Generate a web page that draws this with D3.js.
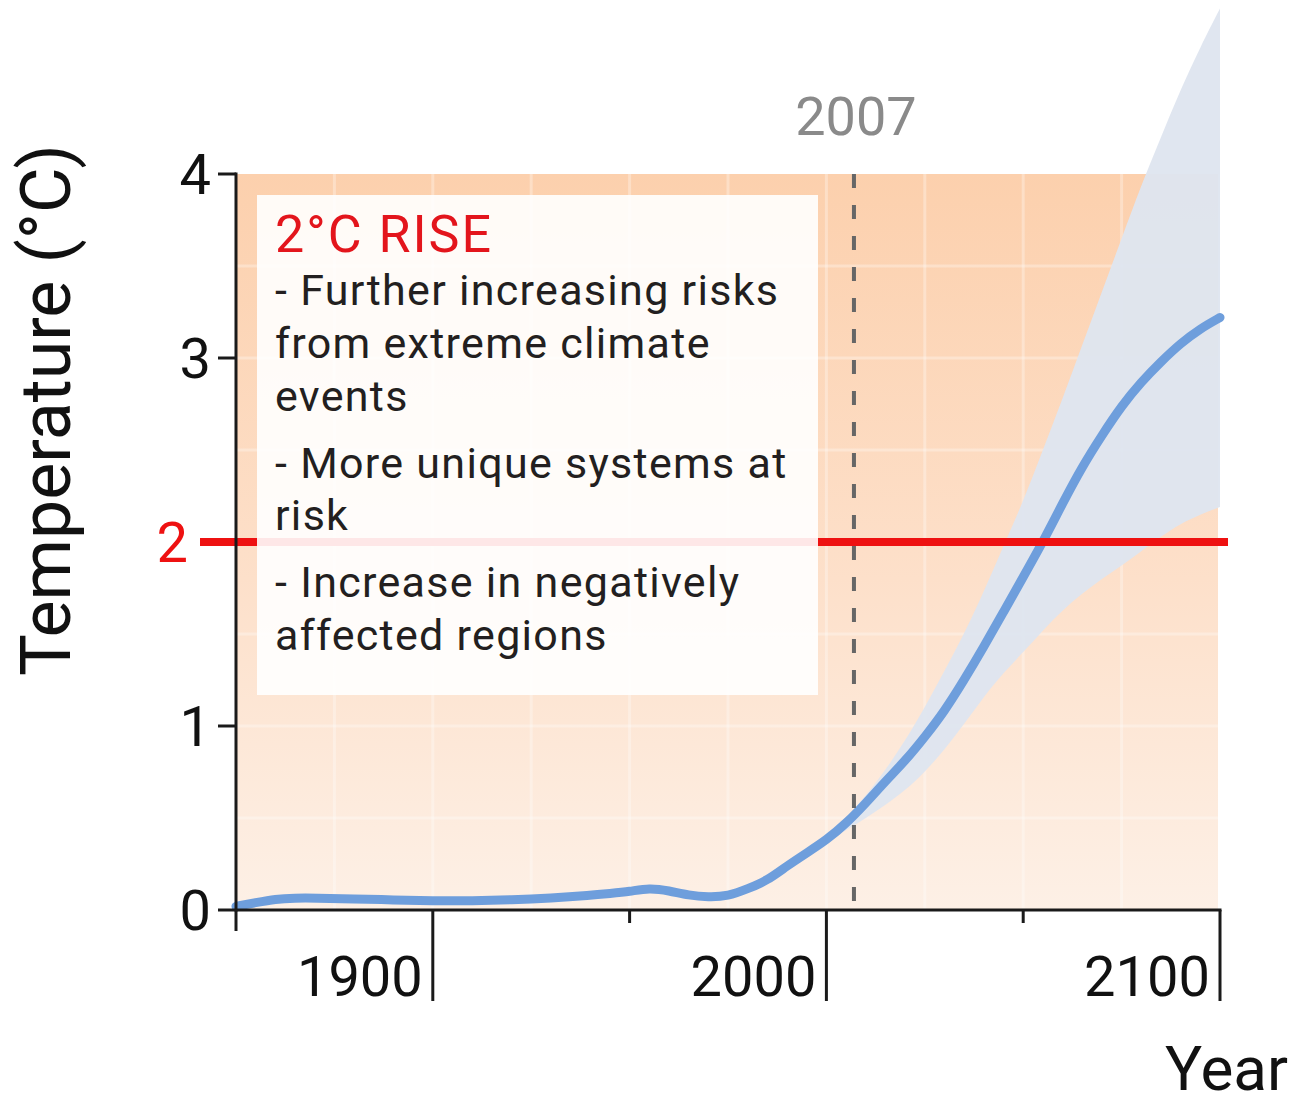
<!DOCTYPE html>
<html><head><meta charset="utf-8">
<script src="https://cdn.jsdelivr.net/npm/d3@7"></script>
<style>
body{margin:0;background:#fff}
svg{display:block}
text{font-family:Roboto,"DejaVu Sans",sans-serif}
</style>
</head><body>
<svg id="chart" width="1296" height="1106"></svg>
<script>
// ---- data ----
const years = [1850,1855,1860,1865,1870,1880,1890,1900,1910,1920,1930,1940,1945,1950,1955,1960,1965,1970,1975,1980,1985,1990,1995,2000,2005,2010,2015,2020,2025,2030,2035,2040,2045,2050,2055,2060,2065,2070,2075,2080,2085,2090,2095,2100];
const temps = [0.02,0.04,0.06,0.065,0.065,0.06,0.055,0.05,0.05,0.055,0.065,0.08,0.09,0.10,0.12,0.105,0.08,0.07,0.075,0.115,0.16,0.24,0.31,0.38,0.47,0.58,0.70,0.81,0.94,1.08,1.25,1.43,1.62,1.81,2.0,2.21,2.41,2.58,2.74,2.87,2.98,3.08,3.16,3.22];
const bandYears = [2000,2005,2010,2015,2020,2025,2030,2035,2040,2045,2050,2055,2060,2065,2070,2075,2080,2085,2090,2095,2100];
const bandUpper = [0.38,0.50,0.62,0.76,0.92,1.10,1.30,1.50,1.73,1.98,2.22,2.50,2.78,3.07,3.36,3.65,3.94,4.20,4.46,4.69,4.90];
const bandLower = [0.38,0.43,0.50,0.57,0.65,0.75,0.87,1.01,1.16,1.29,1.40,1.52,1.63,1.72,1.80,1.87,1.95,2.03,2.10,2.15,2.19];
const yTicks = [0,1,2,3,4];
const xMajorTicks = [1900,2000,2100];
const xMinorTicks = [1850,1950,2050];
const gridYears = [1875,1900,1925,1950,1975,2000,2025,2050,2075];
const gridTemps = [0.5,1,1.5,2,2.5,3,3.5];
const thresholdValue = 2;
const markerYear = 2007;
const markerLabel = "2007";
const boxTitle = "2\u00B0C RISE";
const boxLines = ["- Further increasing risks","from extreme climate","events","- More unique systems at","risk","- Increase in negatively","affected regions"];
const yTitle = "Temperature (\u00B0C)";
const xTitle = "Year";

// ---- layout ----
const svg = d3.select("#chart");
const x = d3.scaleLinear().domain([1850,2100]).range([236,1220]);
const y = d3.scaleLinear().domain([0,4]).range([910,174]);

const defs = svg.append("defs");
const grad = defs.append("linearGradient").attr("id","bg")
  .attr("gradientUnits","userSpaceOnUse").attr("x1",0).attr("y1",y(4)).attr("x2",0).attr("y2",y(0));
grad.append("stop").attr("offset","0%").attr("stop-color","#fcd0ad");
grad.append("stop").attr("offset","55%").attr("stop-color","#fde0ca");
grad.append("stop").attr("offset","100%").attr("stop-color","#fdf0e6");

// plot background
svg.append("rect").attr("x",x(1850)).attr("y",y(4)).attr("width",x(2100)-x(1850)-2).attr("height",y(0)-y(4))
  .attr("fill","url(#bg)");

// grid
const g = svg.append("g").attr("stroke","#ffffff").attr("stroke-opacity",0.3).attr("stroke-width",3);
g.selectAll("line.v").data(gridYears).join("line").attr("class","v")
  .attr("x1",d=>x(d)).attr("x2",d=>x(d)).attr("y1",y(4)).attr("y2",y(0));
g.selectAll("line.h").data(gridTemps).join("line").attr("class","h")
  .attr("x1",x(1850)).attr("x2",x(2100)).attr("y1",d=>y(d)).attr("y2",d=>y(d));

// band
const bandData = bandYears.map((yr,i)=>({yr,lo:bandLower[i],hi:bandUpper[i]}));
svg.append("path").datum(bandData)
  .attr("d",d3.area().x(d=>x(d.yr)).y0(d=>y(d.lo)).y1(d=>y(d.hi)).curve(d3.curveBasis))
  .attr("fill","#dfe5ef").attr("fill-opacity",0.96);

// main line
const lineData = years.map((yr,i)=>({yr,v:temps[i]}));
svg.append("path").datum(lineData)
  .attr("d",d3.line().x(d=>x(d.yr)).y(d=>y(d.v)).curve(d3.curveBasis))
  .attr("fill","none").attr("stroke","#6e9edc").attr("stroke-width",9).attr("stroke-linecap","round");

// dashed marker line
svg.append("line").attr("x1",x(markerYear)).attr("x2",x(markerYear)).attr("y1",y(4)).attr("y2",y(0))
  .attr("stroke","#666").attr("stroke-width",4).attr("stroke-dasharray","14,17");
svg.append("text").attr("x",x(markerYear)+2).attr("y",135).attr("text-anchor","middle")
  .attr("font-size",54).attr("fill","#8a8a8a").text(markerLabel);

// red threshold line
svg.append("line").attr("x1",200).attr("x2",1228).attr("y1",y(thresholdValue)).attr("y2",y(thresholdValue))
  .attr("stroke","#ee1111").attr("stroke-width",8);

// text box
svg.append("rect").attr("x",257).attr("y",195).attr("width",561).attr("height",500)
  .attr("fill","#ffffff").attr("fill-opacity",0.9);
svg.append("text").attr("x",275).attr("y",252).attr("font-size",52).attr("letter-spacing",2)
  .attr("fill","#e3151c").text(boxTitle);
const baselines = [305,358,411,478,530,597,650];
svg.selectAll("text.bl").data(boxLines).join("text").attr("class","bl")
  .attr("x",275).attr("y",(d,i)=>baselines[i]).attr("font-size",43).attr("letter-spacing",1.3)
  .attr("fill","#231f20").text(d=>d);

// y axis
const ax = svg.append("g");
ax.append("line").attr("x1",236).attr("x2",236).attr("y1",y(4)-1.5).attr("y2",y(0)+1.5)
  .attr("stroke","#1a1a1a").attr("stroke-width",3);
ax.selectAll("line.yt").data(yTicks.filter(d=>d!==thresholdValue)).join("line").attr("class","yt")
  .attr("x1",218).attr("x2",236).attr("y1",d=>y(d)).attr("y2",d=>y(d))
  .attr("stroke","#1a1a1a").attr("stroke-width",3);
ax.selectAll("text.yl").data(yTicks).join("text").attr("class","yl")
  .attr("x",d=>d===thresholdValue?188:211).attr("y",d=>y(d)).attr("dy","0.36em").attr("text-anchor","end")
  .attr("font-size",56).attr("fill",d=>d===thresholdValue?"#ee1111":"#111").text(d=>d);

// x axis
ax.append("line").attr("x1",236).attr("x2",1221.5).attr("y1",y(0)).attr("y2",y(0))
  .attr("stroke","#1a1a1a").attr("stroke-width",3);
ax.selectAll("line.xM").data(xMajorTicks).join("line").attr("class","xM")
  .attr("x1",d=>x(d)).attr("x2",d=>x(d)).attr("y1",y(0)).attr("y2",1001)
  .attr("stroke","#1a1a1a").attr("stroke-width",3);
ax.selectAll("line.xm").data(xMinorTicks).join("line").attr("class","xm")
  .attr("x1",d=>x(d)).attr("x2",d=>x(d)).attr("y1",y(0)).attr("y2",d=>d===1850?931:923)
  .attr("stroke","#1a1a1a").attr("stroke-width",3);
ax.selectAll("text.xl").data(xMajorTicks).join("text").attr("class","xl")
  .attr("x",d=>x(d)-10).attr("y",996).attr("text-anchor","end")
  .attr("font-size",56).attr("fill","#111").text(d=>d);

// axis titles
svg.append("text").attr("transform","translate(70,410) rotate(-90)").attr("text-anchor","middle")
  .attr("font-size",70).attr("fill","#111").text(yTitle);
svg.append("text").attr("x",1288).attr("y",1090).attr("text-anchor","end")
  .attr("font-size",62).attr("fill","#111").text(xTitle);
</script>
</body></html>
